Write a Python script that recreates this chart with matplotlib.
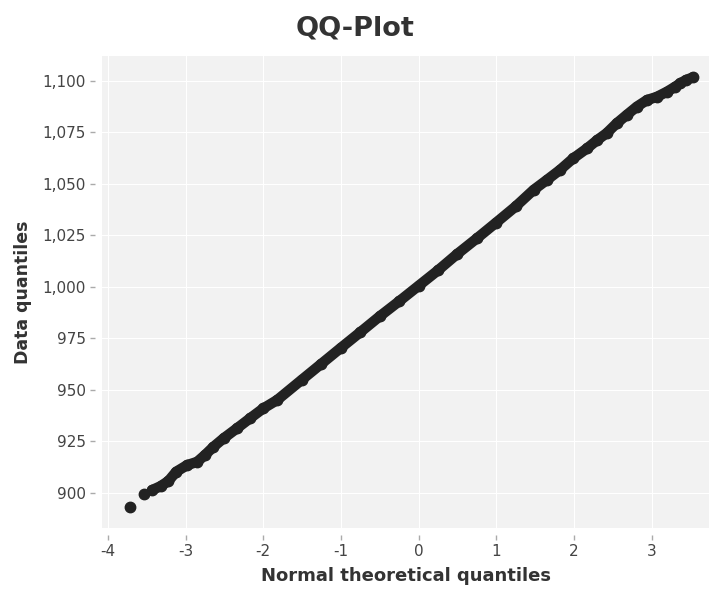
import matplotlib.pyplot as plt
import matplotlib.ticker as mticker

plt.rcParams['font.family'] = 'DejaVu Sans'
plt.rcParams['axes.unicode_minus'] = False

# points (theoretical quantile, data quantile)
theo = [-3.72, -3.54, -3.43, -3.32, -3.22, -3.12, -2.98, -2.85, -2.75, -2.64,
        -2.51, -2.34, -2.17, -2.00, -1.82, -1.50, -1.25, -1.00, -0.75, -0.50,
        -0.25, 0.00, 0.25, 0.50, 0.75, 1.00, 1.25, 1.48, 1.65, 1.82,
        1.99, 2.17, 2.30, 2.42, 2.55, 2.68, 2.81, 2.94, 3.07, 3.20,
        3.30, 3.37, 3.44, 3.53]
data = [893.3, 899.3, 901.4, 903.3, 905.8, 910.3, 913.5, 915.1, 918.4, 922.4,
        926.5, 931.3, 936.2, 941.0, 945.1, 955.0, 962.7, 970.4, 978.0, 985.7,
        993.0, 1000.5, 1008.0, 1016.0, 1023.5, 1031.2, 1039.0, 1047.0, 1051.8, 1056.7,
        1062.3, 1067.2, 1071.2, 1074.5, 1079.3, 1083.4, 1087.4, 1090.6, 1092.2, 1094.7,
        1097.0, 1098.7, 1100.3, 1101.6]

xticks = [-4, -3, -2, -1, 0, 1, 2, 3]
yticks = [900, 925, 950, 975, 1000, 1025, 1050, 1075, 1100]

dark = '#222222'
fig = plt.figure(figsize=(7.1, 5.93), dpi=100)
ax = fig.add_axes([0.1437, 0.1096, 0.855, 0.796])
ax.set_facecolor('#f2f2f2')

# dense part drawn as a thick line so the overlapping dots merge
ax.plot(theo[2:], data[2:], color=dark, lw=7.5, solid_capstyle='round',
        solid_joinstyle='round', zorder=3)
ax.plot(theo, data, 'o', color=dark, ms=7.5, zorder=4)

ax.set_xlim(-4.075, 3.74)
ax.set_ylim(883, 1112)
ax.set_xticks(xticks)
ax.set_yticks(yticks)
ax.yaxis.set_major_formatter(mticker.FuncFormatter(lambda v, p: f'{v:,.0f}'))
ax.grid(color='white', lw=0.8)
ax.set_axisbelow(True)
for s in ax.spines.values():
    s.set_visible(False)
ax.spines['left'].set_position(('outward', 5))
ax.spines['bottom'].set_position(('outward', 5))
ax.tick_params(length=3.5, width=1, color='#aaaaaa', labelcolor='#444444',
               labelsize=11, pad=3)

ax.set_xlabel('Normal theoretical quantiles', fontsize=13, fontweight='bold',
              color='#333333', labelpad=6)
ax.set_ylabel('Data quantiles', fontsize=12.5, fontweight='bold',
              color='#333333', labelpad=8)
fig.text(0.5, 0.952, 'QQ-Plot', ha='center', va='center', fontsize=19.5,
         fontweight='bold', color='#333333')

fig.savefig('out.png', dpi=100)
